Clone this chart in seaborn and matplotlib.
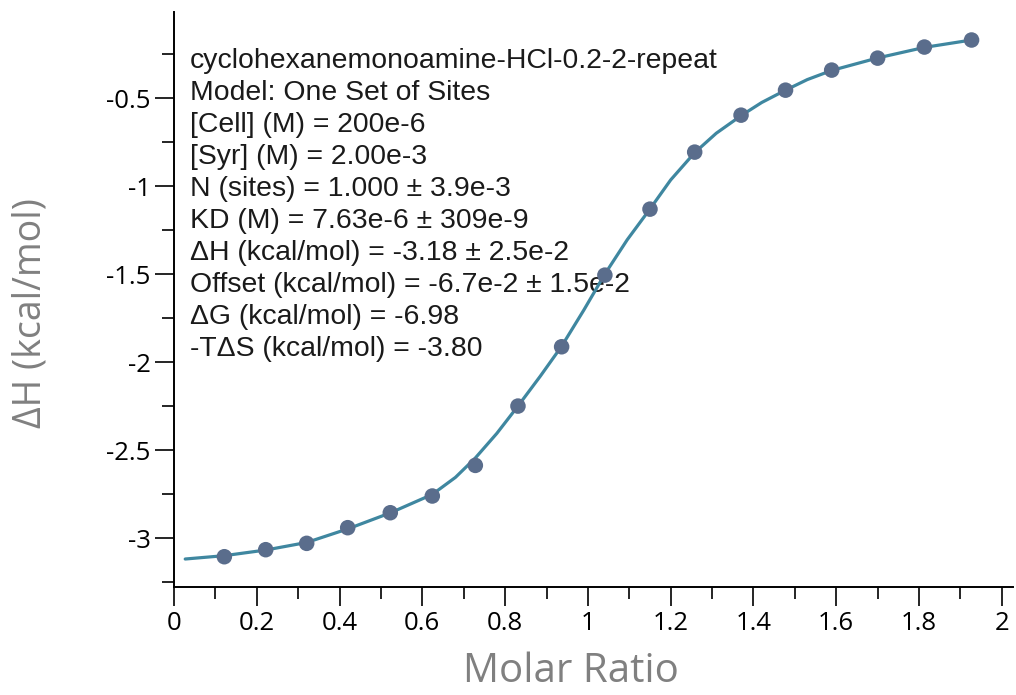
import matplotlib
matplotlib.use("Agg")
import matplotlib.pyplot as plt
import seaborn as sns
import pandas as pd
from matplotlib.ticker import MultipleLocator

# Data
molar_ratio = [0.1215, 0.2215, 0.3205, 0.4196, 0.5225, 0.624, 0.728, 0.831, 0.9365,
               1.041, 1.150, 1.258, 1.370, 1.4775, 1.589, 1.700, 1.813, 1.927]
delta_h = [-3.106, -3.066, -3.030, -2.941, -2.856, -2.761, -2.587, -2.250, -1.913,
           -1.506, -1.131, -0.807, -0.597, -0.455, -0.341, -0.273, -0.210, -0.170]

fit_x = [0.027, 0.1215, 0.2215, 0.3205, 0.4196, 0.5225, 0.624, 0.68, 0.728, 0.78, 0.831,
         0.885, 0.9365, 0.99, 1.041, 1.095, 1.150, 1.20, 1.258, 1.31, 1.370, 1.42,
         1.4775, 1.53, 1.589, 1.700, 1.813, 1.927]
fit_y = [-3.119, -3.100, -3.068, -3.025, -2.948, -2.857, -2.752, -2.655, -2.545, -2.405, -2.250,
         -2.080, -1.910, -1.705, -1.500, -1.305, -1.130, -0.965, -0.810, -0.700, -0.600, -0.525,
         -0.455, -0.395, -0.343, -0.272, -0.212, -0.170]

info_lines = [
    "cyclohexanemonoamine-HCl-0.2-2-repeat",
    "Model: One Set of Sites",
    "[Cell] (M) = 200e-6",
    "[Syr] (M) = 2.00e-3",
    "N (sites) = 1.000 \u00b1 3.9e-3",
    "KD (M) = 7.63e-6 \u00b1 309e-9",
    "\u0394H (kcal/mol) = -3.18 \u00b1 2.5e-2",
    "Offset (kcal/mol) = -6.7e-2 \u00b1 1.5e-2",
    "\u0394G (kcal/mol) = -6.98",
    "-T\u0394S (kcal/mol) = -3.80",
]

x_ticks = [0, 0.2, 0.4, 0.6, 0.8, 1, 1.2, 1.4, 1.6, 1.8, 2]
x_tick_labels = ["0", "0.2", "0.4", "0.6", "0.8", "1", "1.2", "1.4", "1.6", "1.8", "2"]
y_ticks = [-3, -2.5, -2, -1.5, -1, -0.5]
y_tick_labels = ["-3", "-2.5", "-2", "-1.5", "-1", "-0.5"]

sns.set_style("ticks")
plt.rcParams['font.family'] = ['Open Sans', 'DejaVu Sans']

fig = plt.figure(figsize=(10.16, 6.95), dpi=100)
ax = fig.add_axes([0.1713, 0.1554, 0.997 - 0.1713, 0.9827 - 0.1554])

fit_df = pd.DataFrame({"x": fit_x, "y": fit_y})
pts_df = pd.DataFrame({"x": molar_ratio, "y": delta_h})

sns.lineplot(data=fit_df, x="x", y="y", ax=ax, color="#3f87a0", linewidth=2.3,
             sort=False, estimator=None, zorder=2)
sns.scatterplot(data=pts_df, x="x", y="y", ax=ax, color="#5a6d8c", s=125,
                edgecolor="none", zorder=3)

ax.set_xlim(0, 2.027)
ax.set_ylim(-3.278, -0.011)

ax.set_xticks(x_ticks)
ax.set_xticklabels(x_tick_labels)
ax.set_yticks(y_ticks)
ax.set_yticklabels(y_tick_labels)
ax.xaxis.set_minor_locator(MultipleLocator(0.1))
ax.yaxis.set_minor_locator(MultipleLocator(0.25))

for side in ["top", "right"]:
    ax.spines[side].set_visible(False)
for side in ["left", "bottom"]:
    ax.spines[side].set_linewidth(1.4)
    ax.spines[side].set_color("black")

ax.tick_params(axis="both", which="major", length=14, width=1.2, color="black",
               labelsize=18.5, labelcolor="black", pad=3)
ax.tick_params(axis="both", which="minor", length=8.5, width=1.2, color="black")

ax.set_xlabel("Molar Ratio", fontsize=29, color="#808080")
ax.set_ylabel("\u0394H (kcal/mol)", fontsize=27, color="#808080")
ax.xaxis.set_label_coords(0.473, -0.113)
ax.yaxis.set_label_coords(-0.149, 0.476)

ax.text(0.019, 0.937, "\n".join(info_lines), transform=ax.transAxes,
        fontsize=20.4, family="Liberation Sans", color="#1a1a1a",
        va="top", ha="left", linespacing=1.30, zorder=1)

fig.savefig("out.png", dpi=100)
